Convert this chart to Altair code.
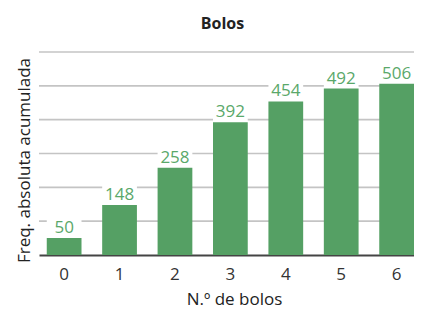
import altair as alt
import pandas as pd

bolos = ["0", "1", "2", "3", "4", "5", "6"]
freq_acum = [50, 148, 258, 392, 454, 492, 506]
y_ticks = [100, 200, 300, 400, 500, 600]

df = pd.DataFrame({"bolos": bolos, "freq": freq_acum})
grid_df = pd.DataFrame({"g": y_ticks})

FONT = "Open Sans"
GREEN_BAR = "#55a064"
GREEN_TXT = "#5aa86a"

xscale = alt.Scale(paddingInner=0.373, paddingOuter=0.07, align=1)
yscale = alt.Scale(domain=[0, 600])

xaxis = alt.Axis(title="N.º de bolos", labelAngle=0, ticks=False,
                 domainColor="#444", domainWidth=2,
                 labelFont=FONT, labelFontSize=17, labelColor="#333",
                 labelPadding=11, titleFont=FONT, titleFontSize=17,
                 titleFontWeight="normal", titleColor="#222",
                 titleX=195, titleY=44, titleAlign="center", titleBaseline="middle")
yaxis = alt.Axis(title="Freq. absoluta acumulada", grid=False,
                 labels=False, ticks=False, domain=False,
                 titleFont=FONT, titleFontSize=17, titleFontWeight="normal",
                 titleColor="#222", titleX=-15, titleY=108,
                 titleAlign="center", titleBaseline="middle")

X = alt.X("bolos:N", scale=xscale, sort=bolos, axis=xaxis)
Y = alt.Y("freq:Q", scale=yscale, axis=yaxis)

grid = alt.Chart(grid_df).mark_rule(color="#c4c4c4", strokeWidth=1.6).encode(
    y=alt.Y("g:Q", scale=yscale, axis=yaxis),
)

base = alt.Chart(df)

bars = base.mark_bar(color=GREEN_BAR).encode(x=X, y=Y)

boxes = base.transform_calculate(top="datum.freq + 65").mark_bar(color="white").encode(
    x=X, y=Y, y2="top:Q",
)

labels = base.mark_text(font=FONT, fontSize=17, color=GREEN_TXT, baseline="middle", dy=-10).encode(
    x=X, y=Y, text="freq:Q",
)

chart = alt.layer(grid, boxes, bars, labels).properties(
    width=375, height=203,
    title=alt.TitleParams("Bolos", font=FONT, fontSize=16, fontWeight="bold", color="#222", dx=-4, offset=19),
    autosize=alt.AutoSizeParams(type="none"),
    padding={"left": 31, "top": 44, "right": 0, "bottom": 54},
).configure_view(stroke=None)

chart.save("out.html", embed_options={"renderer": "svg", "actions": False})
